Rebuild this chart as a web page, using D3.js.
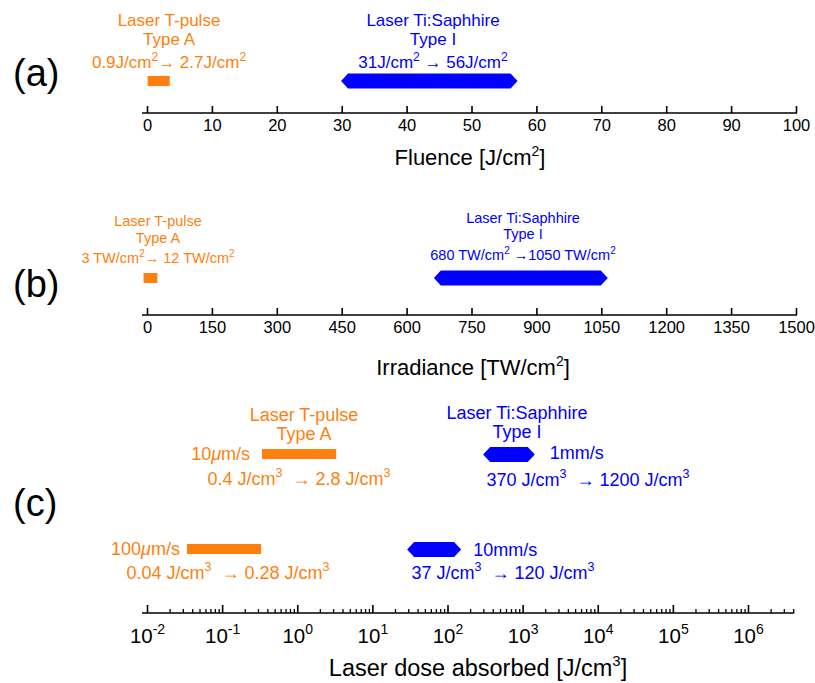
<!DOCTYPE html>
<html><head><meta charset="utf-8">
<script src="https://cdn.jsdelivr.net/npm/d3@7"></script>
<style>
body{margin:0;background:#fff}
svg{display:block}
text{font-family:"Liberation Sans",Arial,Helvetica,sans-serif}
</style>
</head><body>
<svg id="chart" width="815" height="683"></svg>
<script>
// ---------- data ----------
const fluenceTicks = [0, 10, 20, 30, 40, 50, 60, 70, 80, 90, 100];
const irradianceTicks = [0, 150, 300, 450, 600, 750, 900, 1050, 1200, 1350, 1500];
const doseMajorTicks = [1e-2, 1e-1, 1e0, 1e1, 1e2, 1e3, 1e4, 1e5, 1e6];
const doseMinorTicks = [
  0.02,0.03,0.04,0.05,0.06,0.07,0.08,0.09,
  0.2,0.3,0.4,0.5,0.6,0.7,0.8,0.9,
  2,3,4,5,6,7,8,9,
  20,30,40,50,60,70,80,90,
  200,300,400,500,600,700,800,900,
  2000,3000,4000,5000,6000,7000,8000,9000,
  2e4,3e4,4e4,5e4,6e4,7e4,8e4,9e4,
  2e5,3e5,4e5,5e5,6e5,7e5,8e5,9e5,
  2e6,3e6,4e6
];
const doseExponents = ["-2","-1","0","1","2","3","4","5","6"];

const lasers = ["Laser T-pulse", "Laser Ti:Saphhire"];
const laserTypes = ["Type A", "Type I"];

// panel (a) fluence [J/cm2] : bar extents [start, end]
const fluenceOrange = [0.1, 3.5];
const fluenceBlue = [29.9, 57.1];
const fluenceLabels = ["0.9J/cm^2→ 2.7J/cm^2", "31J/cm^2 → 56J/cm^2"];

// panel (b) irradiance [TW/cm2]
const irradianceOrange = [-8, 24];
const irradianceBlue = [663, 1065];
const irradianceLabels = ["3 TW/cm^2→ 12 TW/cm^2", "680 TW/cm^2 →1050 TW/cm^2"];

// panel (c) dose [J/cm3]
const doseOrangeSlow = [0.34, 3.3];
const doseOrangeFast = [0.034, 0.33];
const doseBlueSlow = [298, 1450];
const doseBlueFast = [29, 152];
const speeds = ["10*μ*m/s", "100*μ*m/s", "1mm/s", "10mm/s"];
const doseLabels = ["0.4 J/cm^3  → 2.8 J/cm^3", "0.04 J/cm^3  → 0.28 J/cm^3",
                    "370 J/cm^3  → 1200 J/cm^3", "37 J/cm^3  → 120 J/cm^3"];

const panelNames = ["(a)", "(b)", "(c)"];
const axisTitles = ["Fluence [J/cm^2]", "Irradiance [TW/cm^2]", "Laser dose absorbed [J/cm^3]"];

// ---------- style ----------
const ORANGE = "#ff7f0e";
const BLUE = "#0000ff";
const svg = d3.select("#chart");

function rich(sel, str, supSize, supDy) {
  const parts = str.split(/(\^-?\d+|\*[^*]+\*)/).filter(s => s.length);
  let raised = false;
  parts.forEach(p => {
    if (p.startsWith("^")) {
      sel.append("tspan").attr("dy", -supDy).attr("font-size", supSize).text(p.slice(1));
      raised = true;
    } else {
      const t = sel.append("tspan");
      if (raised) { t.attr("dy", supDy); raised = false; }
      if (p.startsWith("*")) t.attr("font-style", "italic").text(p.slice(1, -1));
      else t.text(p);
    }
  });
  return sel;
}

function label(x, y, str, opts) {
  const t = svg.append("text")
    .attr("x", x).attr("y", y)
    .attr("text-anchor", opts.anchor || "middle")
    .attr("font-size", opts.size)
    .attr("fill", opts.color || "#000")
    .style("white-space", "pre");
  rich(t, str, opts.supSize || opts.size * 0.62, opts.supDy || opts.size * 0.42);
  return t;
}

function rectBar(x, cy, ext, h, color) {
  svg.append("rect")
    .attr("x", x(ext[0])).attr("y", cy - h / 2)
    .attr("width", x(ext[1]) - x(ext[0])).attr("height", h)
    .attr("fill", color);
}
function hexBar(x, cy, ext, h, inset, color) {
  const x0 = x(ext[0]), x1 = x(ext[1]);
  const pts = [[x0, cy], [x0 + inset, cy - h / 2], [x1 - inset, cy - h / 2],
               [x1, cy], [x1 - inset, cy + h / 2], [x0 + inset, cy + h / 2]];
  svg.append("path").attr("d", d3.line()(pts) + "Z").attr("fill", color);
}

function axisLine(y, xa, xb) {
  svg.append("line").attr("x1", xa).attr("x2", xb).attr("y1", y).attr("y2", y)
    .attr("stroke", "#000").attr("stroke-width", 1.6);
}

const X0 = 147, X1 = 796;

// ---------- panel (a) ----------
const xA = d3.scaleLinear().domain([0, 100]).range([X0, X1]);
const yA = 113;
const gA = svg.append("g").attr("transform", `translate(0,${yA})`)
  .call(d3.axisBottom(xA).tickValues(fluenceTicks).tickSize(-7).tickSizeOuter(0).tickPadding(6).tickFormat(d3.format("d")));
gA.select(".domain").remove();
gA.selectAll(".tick line").attr("stroke-width", 1.6);
gA.selectAll(".tick text").attr("font-size", 16.5).attr("font-family", "Liberation Sans, Arial, sans-serif").attr("fill", "#000");
axisLine(yA, X0 - 5, X1 + 1);
label(470, 165, axisTitles[0], {size: 22, supSize: 14, supDy: 9});

rectBar(xA, 81, fluenceOrange, 10, ORANGE);
hexBar(xA, 81, fluenceBlue, 15, 7, BLUE);
label(169, 26, lasers[0], {size: 17, color: ORANGE});
label(169, 45, laserTypes[0], {size: 17, color: ORANGE});
label(169, 68, fluenceLabels[0], {size: 17, color: ORANGE, supSize: 12, supDy: 7});
label(433, 26, lasers[1], {size: 17, color: BLUE});
label(433, 45, laserTypes[1], {size: 17, color: BLUE});
label(433, 68, fluenceLabels[1], {size: 17, color: BLUE, supSize: 12, supDy: 7});
label(13, 86, panelNames[0], {size: 38, anchor: "start"});

// ---------- panel (b) ----------
const xB = d3.scaleLinear().domain([0, 1500]).range([X0, X1]);
const yB = 315;
const gB = svg.append("g").attr("transform", `translate(0,${yB})`)
  .call(d3.axisBottom(xB).tickValues(irradianceTicks).tickSize(-7).tickSizeOuter(0).tickPadding(6).tickFormat(d3.format("d")));
gB.select(".domain").remove();
gB.selectAll(".tick line").attr("stroke-width", 1.6);
gB.selectAll(".tick text").attr("font-size", 16.5).attr("font-family", "Liberation Sans, Arial, sans-serif").attr("fill", "#000");
axisLine(yB, X0 - 5, X1 + 1);
label(473, 375, axisTitles[1], {size: 22, supSize: 14, supDy: 9});

rectBar(xB, 278, irradianceOrange, 10, ORANGE);
hexBar(xB, 278, irradianceBlue, 15, 7, BLUE);
label(158, 226, lasers[0], {size: 14.5, color: ORANGE});
label(158, 243, laserTypes[0], {size: 14.5, color: ORANGE});
label(158, 263, irradianceLabels[0], {size: 14.5, color: ORANGE, supSize: 10, supDy: 6});
label(523, 223, lasers[1], {size: 14.5, color: BLUE});
label(523, 239, laserTypes[1], {size: 14.5, color: BLUE});
label(523, 260, irradianceLabels[1], {size: 14.5, color: BLUE, supSize: 10, supDy: 6});
label(13, 297, panelNames[1], {size: 38, anchor: "start"});

// ---------- panel (c) ----------
const xC = d3.scaleLog().domain([1e-2, 1e6]).range([X0, 748]);
const yC = 613;
const gCm = svg.append("g").attr("transform", `translate(0,${yC})`)
  .call(d3.axisBottom(xC).tickValues(doseMinorTicks).tickSize(-4).tickSizeOuter(0).tickFormat(""));
gCm.select(".domain").remove();
gCm.selectAll(".tick line").attr("stroke-width", 1.3);
const gC = svg.append("g").attr("transform", `translate(0,${yC})`)
  .call(d3.axisBottom(xC).tickValues(doseMajorTicks).tickSize(-8).tickSizeOuter(0).tickPadding(15).tickFormat(() => ""));
gC.select(".domain").remove();
gC.selectAll(".tick line").attr("stroke-width", 1.6);
gC.selectAll(".tick text").each(function(d, i) {
  const t = d3.select(this).attr("font-size", 20.5).attr("fill", "#000")
    .attr("font-family", "Liberation Sans, Arial, sans-serif");
  t.text(null);
  t.append("tspan").text("10");
  t.append("tspan").attr("dy", -9).attr("font-size", 14).text(doseExponents[i]);
});
axisLine(yC, X0 - 5, xC(4e6) + 1);
label(478, 676, axisTitles[2], {size: 23.5, supSize: 15, supDy: 10});

rectBar(xC, 454, doseOrangeSlow, 10, ORANGE);
rectBar(xC, 549, doseOrangeFast, 10, ORANGE);
hexBar(xC, 454.5, doseBlueSlow, 15, 7, BLUE);
hexBar(xC, 549.5, doseBlueFast, 15, 7, BLUE);

const CS = 18;
label(304, 421, lasers[0], {size: CS, color: ORANGE});
label(304, 440, laserTypes[0], {size: CS, color: ORANGE});
label(xC(doseOrangeSlow[0]) - 12, 460, speeds[0], {size: CS, color: ORANGE, anchor: "end"});
label(299, 485, doseLabels[0], {size: CS, color: ORANGE, supSize: 12.5, supDy: 8});
label(xC(doseOrangeFast[0]) - 7, 555, speeds[1], {size: CS, color: ORANGE, anchor: "end"});
label(228, 579, doseLabels[1], {size: CS, color: ORANGE, supSize: 12.5, supDy: 8});

label(517, 419, lasers[1], {size: CS, color: BLUE});
label(517, 438, laserTypes[1], {size: CS, color: BLUE});
label(xC(doseBlueSlow[1]) + 15, 459, speeds[2], {size: CS, color: BLUE, anchor: "start"});
label(588, 486, doseLabels[2], {size: CS, color: BLUE, supSize: 12.5, supDy: 8});
label(xC(doseBlueFast[1]) + 12, 556, speeds[3], {size: CS, color: BLUE, anchor: "start"});
label(503, 579, doseLabels[3], {size: CS, color: BLUE, supSize: 12.5, supDy: 8});
label(13, 516, panelNames[2], {size: 38, anchor: "start"});
</script>
</body></html>
